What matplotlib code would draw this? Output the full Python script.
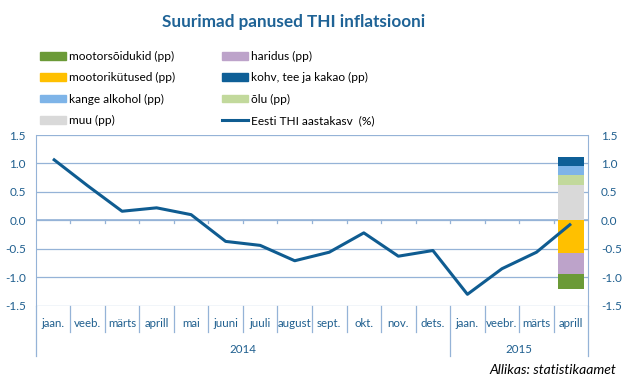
"""
Suurimad panused THI inflatsiooni - Eesti THI aastakasv ja panused (aprill 2015).
"""

import matplotlib.pyplot as plt
from matplotlib.patches import Patch
from matplotlib.lines import Line2D
from matplotlib import transforms

plt.rcParams["font.family"] = ["Lato", "DejaVu Sans"]

months = ["jaan.", "veeb.", "märts", "aprill", "mai", "juuni", "juuli", "august",
          "sept.", "okt.", "nov.", "dets.", "jaan.", "veebr.", "märts", "aprill"]
years = ["2014", "2015"]
year_spans = [(0, 12), (12, 16)]

# Eesti THI aastakasv (%)
thi = [1.08, 0.61, 0.16, 0.22, 0.10, -0.37, -0.44, -0.71,
       -0.56, -0.22, -0.63, -0.53, -1.30, -0.85, -0.56, -0.06]

# panused aprill 2015 (pp)
pos_names = ["muu (pp)", "õlu (pp)", "kange alkohol (pp)", "kohv, tee ja kakao (pp)"]
pos_vals = [0.63, 0.17, 0.15, 0.17]
neg_names = ["mootorikütused (pp)", "haridus (pp)", "mootorsõidukid (pp)"]
neg_vals = [-0.58, -0.37, -0.25]

COLORS = {
    "mootorsõidukid (pp)": "#6b9a37",
    "mootorikütused (pp)": "#ffc000",
    "kange alkohol (pp)": "#7eb4e8",
    "muu (pp)": "#d9d9d9",
    "haridus (pp)": "#bda3ca",
    "kohv, tee ja kakao (pp)": "#0e5f97",
    "õlu (pp)": "#c2d99c",
}
LINE_COLOR = "#0f5c91"
GRID_COLOR = "#95b3d7"
LABEL_COLOR = "#1f5f8f"

fig = plt.figure(figsize=(6.25, 3.8), dpi=100)
ax = fig.add_axes([35.7 / 625, 74.3 / 380, 552.6 / 625, 170.7 / 380])

x = list(range(len(months)))
bar_x = x[-1]

bottom = 0.0
for name, v in zip(pos_names, pos_vals):
    ax.bar(bar_x, v, bottom=bottom, width=0.77, color=COLORS[name], zorder=2)
    bottom += v
bottom = 0.0
for name, v in zip(neg_names, neg_vals):
    ax.bar(bar_x, v, bottom=bottom, width=0.77, color=COLORS[name], zorder=2)
    bottom += v

ax.plot(x, thi, color=LINE_COLOR, linewidth=2.2, zorder=3, solid_capstyle="butt")

ax.set_xlim(-0.5, len(months) - 0.5)
ax.set_ylim(-1.5, 1.5)
yticks = [-1.5, -1.0, -0.5, 0.0, 0.5, 1.0, 1.5]
ax.set_yticks(yticks)
ax.set_yticklabels([f"{t:.1f}" for t in yticks])
ax.tick_params(axis="y", length=0, labelsize=8.5, labelcolor=LABEL_COLOR, pad=7)
ax.grid(axis="y", color=GRID_COLOR, linewidth=0.9, zorder=0)

ax2 = ax.twinx()
ax2.set_ylim(ax.get_ylim())
ax2.set_yticks(yticks)
ax2.set_yticklabels([f"{t:.1f}" for t in yticks])
ax2.tick_params(axis="y", length=0, labelsize=8.5, labelcolor=LABEL_COLOR, pad=9)

for a in (ax, ax2):
    for s in ("top", "bottom"):
        a.spines[s].set_visible(False)
    a.spines["left"].set_color(GRID_COLOR)
    a.spines["right"].set_color(GRID_COLOR)
ax2.spines["left"].set_visible(False)
ax.spines["right"].set_visible(False)

# x-axis at zero with tick marks between categories
ax.set_xticks([])
ax.axhline(0, color=GRID_COLOR, linewidth=1.2, zorder=1)
trans = transforms.blended_transform_factory(ax.transData, ax.transAxes)
for b in range(1, len(months)):
    ax.add_line(Line2D([b - 0.5, b - 0.5], [0.5, 0.485], transform=trans,
                       color=GRID_COLOR, linewidth=0.9, zorder=1))

# category labels below plot, with separators
for i, m in enumerate(months):
    ax.text(i, -0.107, m, transform=trans, ha="center", va="center",
            fontsize=8.3, color=LABEL_COLOR)
year_edges = {s for s, e in year_spans} | {e for s, e in year_spans}
for b in range(len(months) + 1):
    low = -0.296 if b in year_edges else -0.154
    ax.add_line(Line2D([b - 0.5, b - 0.5], [0, low], transform=trans,
                       color=GRID_COLOR, linewidth=0.9, clip_on=False))
for yr, (s, e) in zip(years, year_spans):
    ax.text((s + e - 1) / 2, -0.254, yr, transform=trans, ha="center",
            va="center", fontsize=8.3, color=LABEL_COLOR)

fig.text(294 / 625, 1 - 22 / 380, "Suurimad panused THI inflatsiooni", ha="center",
         va="center", fontsize=12.3, fontweight="bold", color="#1f6396")

col1 = ["mootorsõidukid (pp)", "mootorikütused (pp)", "kange alkohol (pp)", "muu (pp)"]
col2 = ["haridus (pp)", "kohv, tee ja kakao (pp)", "õlu (pp)"]
h1 = [Patch(color=COLORS[n], label=n) for n in col1]
h2 = [Patch(color=COLORS[n], label=n) for n in col2]
h2.append(Line2D([], [], color=LINE_COLOR, linewidth=2.2, label="Eesti THI aastakasv  (%)"))
leg_kw = dict(loc="upper left", frameon=False, fontsize=8.6, handlelength=2.2,
              handleheight=0.65, handletextpad=0.2, labelspacing=0.86,
              borderaxespad=0, borderpad=0)
fig.legend(handles=h1, bbox_to_anchor=(40 / 625, 1 - 51 / 380), **leg_kw)
fig.legend(handles=h2, bbox_to_anchor=(222 / 625, 1 - 51 / 380), **leg_kw)

fig.text(616 / 625, 1 - 370 / 380, "Allikas: statistikaamet", ha="right",
         va="center", fontsize=10, style="italic", color="black")

fig.savefig("out.png", dpi=100)
